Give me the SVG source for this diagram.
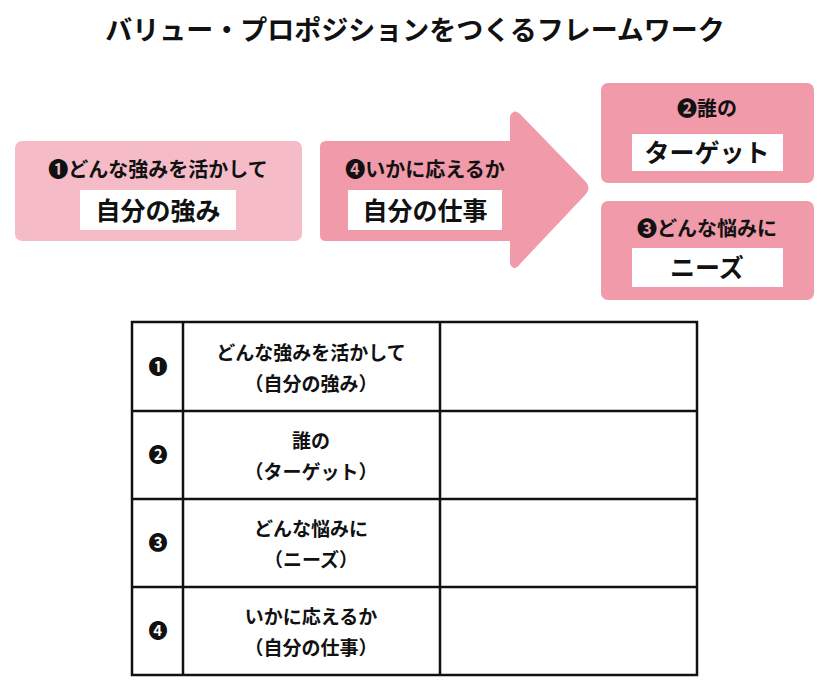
<svg xmlns="http://www.w3.org/2000/svg" width="830" height="691" viewBox="0 0 830 691">
<style>
text{font-family:"Noto Sans CJK JP","Noto Sans",sans-serif;font-weight:bold;fill:#111;text-anchor:middle}
.t{font-size:27px}.s{font-size:20px}.b{font-size:25px}.c{font-size:19px;font-weight:bold}
.w{fill:#fff}
.ln{stroke:#111;stroke-width:2.5;fill:none}
</style>
<rect width="830" height="691" fill="#fff"/>
<text class="t" x="415" y="40">バリュー・プロポジションをつくるフレームワーク</text>
<g id="n1">
<rect x="15" y="141" width="287" height="100" rx="7" fill="#f5bcc8"/>
<text class="s" x="158" y="177">❶どんな強みを活かして</text>
<rect class="w" x="80" y="190" width="156" height="40"/>
<text class="b" x="158" y="220">自分の強み</text>
</g>
<g id="n4">
<path d="M326,141 H510 V116 Q514,108 520,114 L586,182 Q591,188 586,194 L520,264 Q514,272 510,264 V241 H326 Q320,241 320,235 V147 Q320,141 326,141 Z" fill="#f09aaa"/>
<text class="s" x="425" y="177">❹いかに応えるか</text>
<rect class="w" x="348" y="190" width="154" height="40"/>
<text class="b" x="425" y="220">自分の仕事</text>
</g>
<g id="n2">
<rect x="601" y="83" width="213" height="100" rx="7" fill="#f09aaa"/>
<text class="s" x="707" y="116">❷誰の</text>
<rect class="w" x="632" y="134" width="151" height="37"/>
<text class="b" x="707" y="162">ターゲット</text>
</g>
<g id="n3">
<rect x="601" y="201" width="213" height="99" rx="7" fill="#f09aaa"/>
<text class="s" x="707" y="236">❸どんな悩みに</text>
<rect class="w" x="632" y="248" width="151" height="39"/>
<text class="b" x="707" y="277">ニーズ</text>
</g>
<g id="table">
<rect class="ln" x="132" y="322" width="565" height="353"/>
<path class="ln" d="M183,322V675M440,322V675M132,411H697M132,499H697M132,587H697"/>
<text class="c" x="158" y="374">❶</text>
<text class="c" x="158" y="462">❷</text>
<text class="c" x="158" y="550">❸</text>
<text class="c" x="158" y="638">❹</text>
<text class="c" x="311" y="360">どんな強みを活かして</text>
<text class="c" x="311" y="391">（自分の強み）</text>
<text class="c" x="311" y="448">誰の</text>
<text class="c" x="311" y="479">（ターゲット）</text>
<text class="c" x="311" y="536">どんな悩みに</text>
<text class="c" x="311" y="567">（ニーズ）</text>
<text class="c" x="311" y="624">いかに応えるか</text>
<text class="c" x="311" y="655">（自分の仕事）</text>
</g>
</svg>
